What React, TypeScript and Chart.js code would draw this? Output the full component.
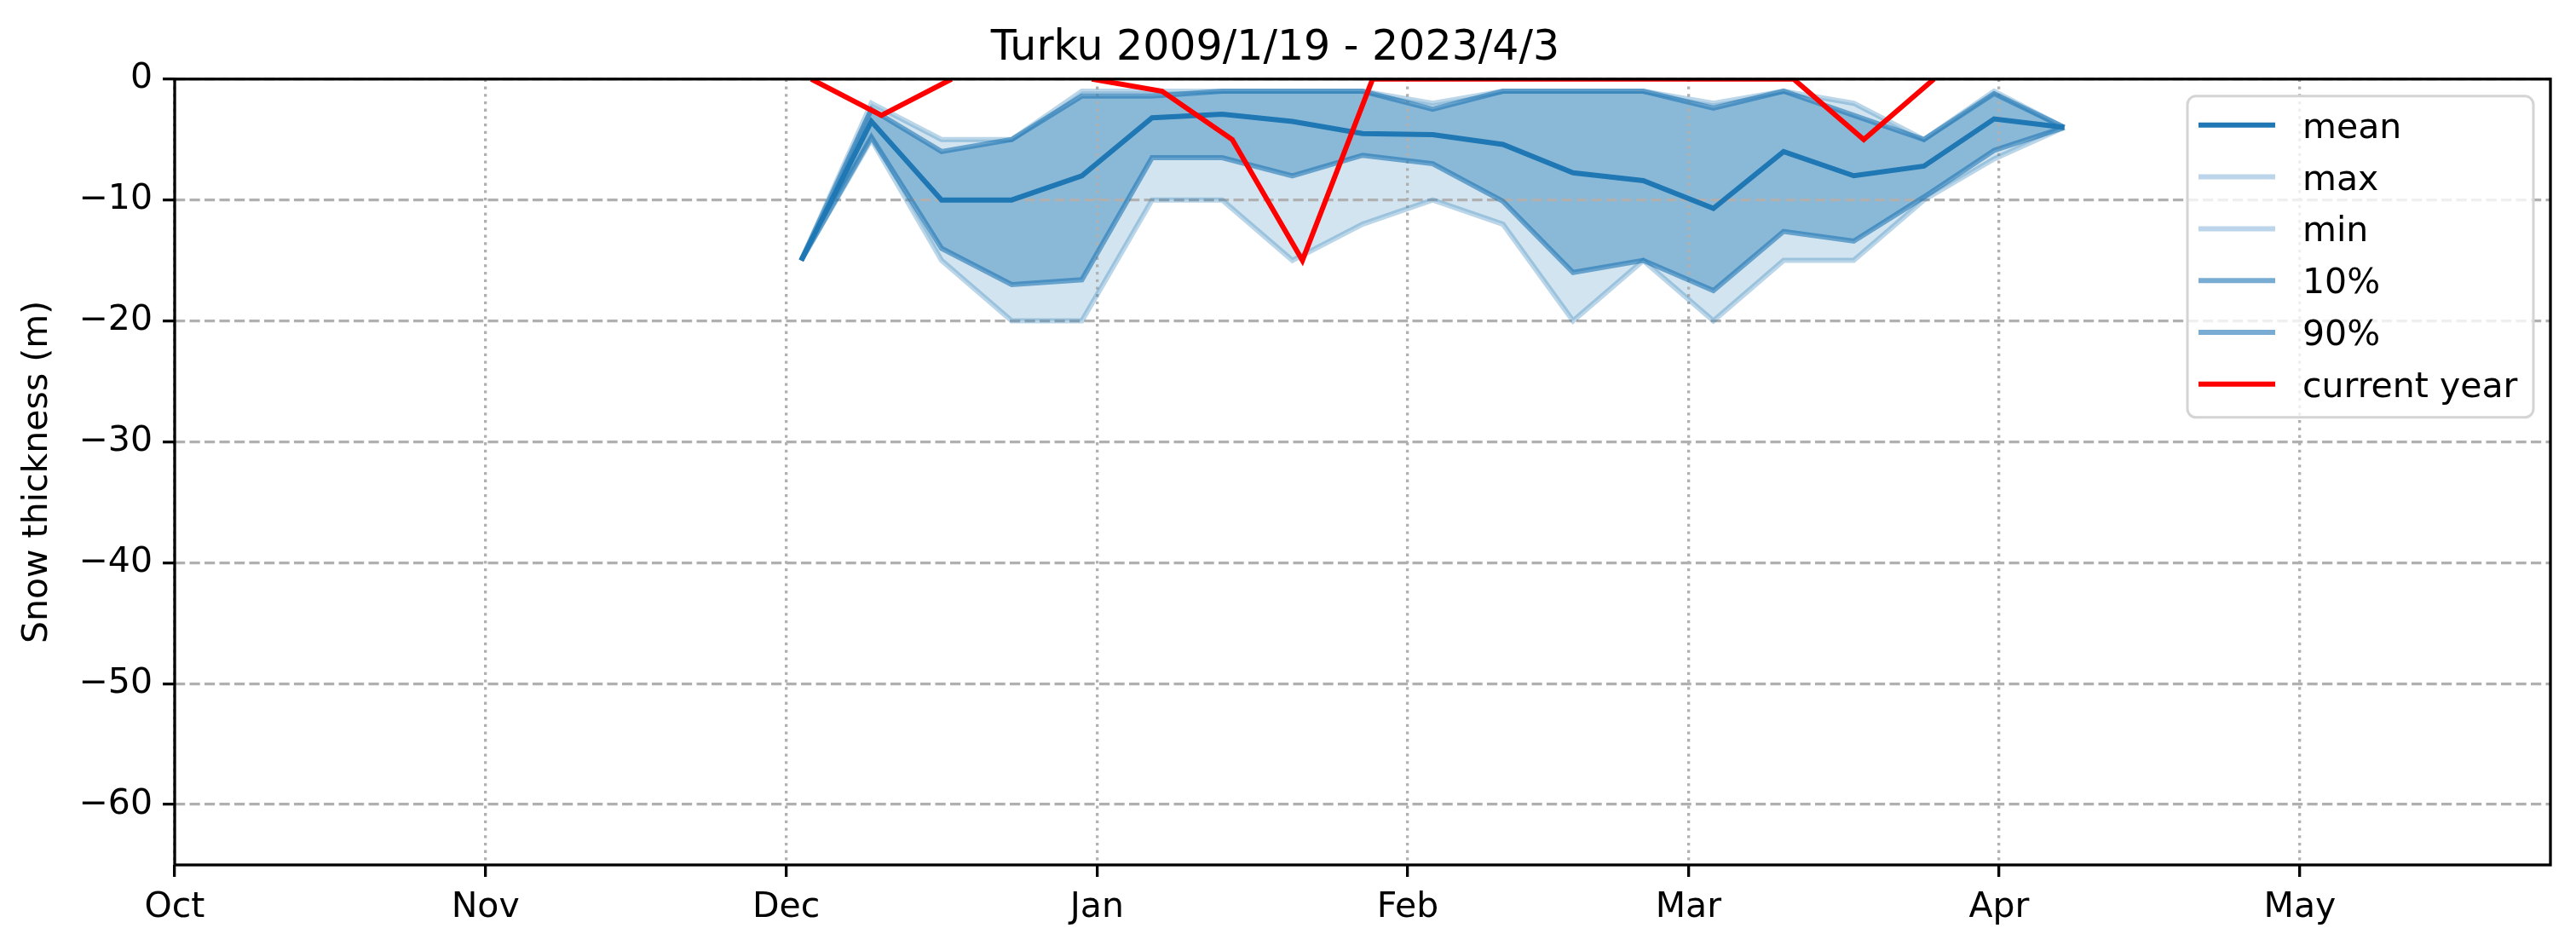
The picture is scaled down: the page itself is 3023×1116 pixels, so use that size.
import React, { useEffect, useRef } from 'react';
import { Chart, registerables } from 'chart.js';

Chart.register(...registerables);

// X axis: days since 1 October
const monthLabels = ['Oct', 'Nov', 'Dec', 'Jan', 'Feb', 'Mar', 'Apr', 'May'];
const monthStartDays = [0, 31, 61, 92, 123, 151, 182, 212];
const xMaxDay = 237;
const yTicks = [-60, -50, -40, -30, -20, -10, 0];

// weekly statistics (days since 1 Oct)
const weekDays = [62.5, 69.5, 76.5, 83.5, 90.5, 97.5, 104.5, 111.5, 118.5, 125.5, 132.5, 139.5, 146.5, 153.5, 160.5, 167.5, 174.5, 181.5, 188.5];
const meanVals = [-15, -3.5, -10, -10, -8, -3.2, -2.9, -3.5, -4.5, -4.6, -5.4, -7.75, -8.4, -10.7, -6, -8, -7.2, -3.3, -4];
const maxVals = [-15, -2, -5, -5, -1, -1, -1, -1, -1, -2, -1, -1, -1, -2, -1, -2, -5, -1, -4];
const minVals = [-15, -5, -15, -20, -20, -10, -10, -15, -12, -10, -12, -20, -15, -20, -15, -15, -10, -6.6, -4];
const p10Vals = [-15, -4.8, -14, -17, -16.6, -6.5, -6.5, -8, -6.3, -7, -10.1, -16, -15, -17.5, -12.6, -13.4, -9.75, -5.9, -4];
const p90Vals = [-15, -2.5, -6, -5, -1.4, -1.4, -1, -1, -1, -2.5, -1, -1, -1, -2.4, -1, -3, -5, -1.2, -4];

// current year
const currentDays = [63.5, 70.5, 77.5, 84.5, 91.5, 98.5, 105.5, 112.5, 119.5, 126.5, 133.5, 140.5, 147.5, 154.5, 161.5, 168.5, 175.5];
const currentVals: (number | null)[] = [0, -3, 0, null, 0, -1, -5, -15, 0, 0, 0, 0, 0, 0, 0, -5, 0];

const FONT = 'DejaVu Sans';
const pts = (xs: number[], ys: (number | null)[]) => xs.map((x, i) => ({ x, y: ys[i] }));

const framePlugin = {
  id: 'frame',
  afterDatasetsDraw(chart: any) {
    const { ctx, chartArea } = chart;
    ctx.save();
    ctx.strokeStyle = '#000';
    ctx.lineWidth = 3.3;
    ctx.setLineDash([]);
    ctx.strokeRect(chartArea.left, chartArea.top, chartArea.right - chartArea.left, chartArea.bottom - chartArea.top);
    ctx.restore();
  },
};

const legendPlugin = {
  id: 'customLegend',
  afterDraw(chart: any) {
    const { ctx, chartArea } = chart;
    const w = 406;
    const h = 377;
    const x0 = chartArea.right - 20 - w;
    const y0 = chartArea.top + 20;
    ctx.save();
    ctx.beginPath();
    const r = 10;
    ctx.moveTo(x0 + r, y0);
    ctx.arcTo(x0 + w, y0, x0 + w, y0 + h, r);
    ctx.arcTo(x0 + w, y0 + h, x0, y0 + h, r);
    ctx.arcTo(x0, y0 + h, x0, y0, r);
    ctx.arcTo(x0, y0, x0 + w, y0, r);
    ctx.closePath();
    ctx.fillStyle = 'rgba(255,255,255,0.8)';
    ctx.fill();
    ctx.strokeStyle = '#d4d4d4';
    ctx.lineWidth = 3;
    ctx.stroke();
    ctx.font = `41px "${FONT}"`;
    ctx.textBaseline = 'alphabetic';
    ctx.textAlign = 'left';
    chart.data.datasets.forEach((ds: any, i: number) => {
      const cy = y0 + 34 + i * 60.8;
      ctx.beginPath();
      ctx.strokeStyle = ds.legendColor || ds.borderColor;
      ctx.lineWidth = 6;
      ctx.moveTo(x0 + 13, cy);
      ctx.lineTo(x0 + 103, cy);
      ctx.stroke();
      ctx.fillStyle = '#000';
      ctx.fillText(ds.label, x0 + 135, cy + 15);
    });
    ctx.restore();
  },
};

export default function App() {
  const ref = useRef<HTMLCanvasElement>(null);
  useEffect(() => {
    document.body.style.margin = '0';
    const canvas = ref.current!;
    const chart = new Chart(canvas, {
      type: 'line',
      data: {
        datasets: [
          { label: 'mean', data: pts(weekDays, meanVals), borderColor: '#1f77b4', borderWidth: 6, fill: false, order: 1, clip: 0 } as any,
          { label: 'max', data: pts(weekDays, maxVals), borderColor: 'rgba(31,119,180,0.3)', legendColor: '#bcd5ea', borderWidth: 6, fill: { target: 2 }, backgroundColor: 'rgba(31,119,180,0.2)', order: 3, clip: 0 },
          { label: 'min', data: pts(weekDays, minVals), borderColor: 'rgba(31,119,180,0.3)', legendColor: '#bcd5ea', borderWidth: 6, fill: false, order: 3, clip: 0 },
          { label: '10%', data: pts(weekDays, p10Vals), borderColor: 'rgba(31,119,180,0.6)', legendColor: '#79acd2', borderWidth: 6, fill: { target: 4 }, backgroundColor: 'rgba(31,119,180,0.4)', order: 2, clip: 0 },
          { label: '90%', data: pts(weekDays, p90Vals), borderColor: 'rgba(31,119,180,0.6)', legendColor: '#79acd2', borderWidth: 6, fill: false, order: 2, clip: 0 },
          { label: 'current year', data: pts(currentDays, currentVals), borderColor: '#ff0000', borderWidth: 6, fill: false, order: 0, clip: 0, spanGaps: false },
        ],
      },
      options: {
        animation: false,
        responsive: false,
        devicePixelRatio: 1,
        layout: { padding: { left: 0, right: 30, top: 0, bottom: 0 } },
        elements: { point: { radius: 0, hoverRadius: 0 }, line: { tension: 0 } },
        plugins: {
          legend: { display: false },
          tooltip: { enabled: false },
          filler: { drawTime: 'beforeDraw' },
          title: {
            display: true,
            text: 'Turku 2009/1/19 - 2023/4/3',
            color: '#000',
            font: { family: FONT, size: 49, weight: 'normal' },
            padding: { top: 28, bottom: 6 },
          },
        } as any,
        scales: {
          x: {
            type: 'linear',
            min: 0,
            max: xMaxDay,
            afterFit(s: any) { s.height = 101; },
            afterBuildTicks(s: any) { s.ticks = monthStartDays.map((v) => ({ value: v })); },
            ticks: {
              autoSkip: false,
              maxRotation: 0,
              padding: 12,
              color: '#000',
              font: { family: FONT, size: 41 },
              callback: (v: any) => monthLabels[monthStartDays.indexOf(Number(v))] ?? '',
            },
            grid: {
              color: '#b0b0b0',
              lineWidth: 3.3,
              tickLength: 14,
              tickColor: '#000',
              tickWidth: 3.3,
              tickBorderDash: [],
            } as any,
            border: { display: false, dash: [3.3, 5.4] },
          },
          y: {
            type: 'linear',
            min: -65,
            max: 0,
            afterFit(s: any) { s.width = 205; },
            afterBuildTicks(s: any) { s.ticks = yTicks.map((v) => ({ value: v })); },
            ticks: {
              padding: 12,
              color: '#000',
              font: { family: FONT, size: 41 },
              callback: (v: any) => (Number(v) === 0 ? '0' : '\u2212' + Math.abs(Number(v))),
            },
            title: {
              display: true,
              text: 'Snow thickness (m)',
              color: '#000',
              font: { family: FONT, size: 41 },
              padding: { top: 20, bottom: 0 },
            },
            grid: {
              color: '#b0b0b0',
              lineWidth: 3.3,
              tickLength: 14,
              tickColor: '#000',
              tickWidth: 3.3,
              tickBorderDash: [],
            } as any,
            border: { display: false, dash: [12.2, 5.3] },
          },
        },
      },
      plugins: [framePlugin, legendPlugin],
    } as any);
    return () => chart.destroy();
  }, []);
  return <canvas ref={ref} width={3023} height={1116} style={{ display: 'block', width: 3023, height: 1116 }} />;
}
